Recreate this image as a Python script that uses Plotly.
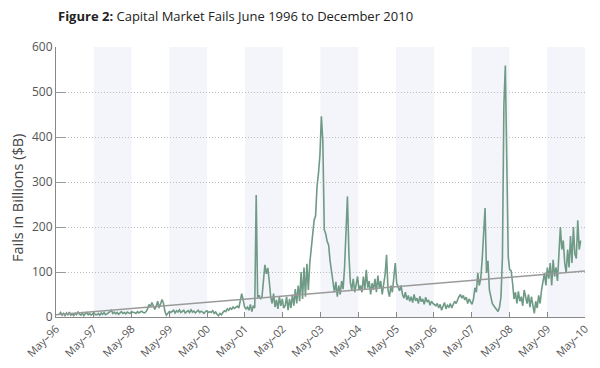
import plotly.graph_objects as go
import pandas as pd

# Biweekly fails ($B), one list per June-May year
fails_9697 = [6, 10, 4, 8, 3, 9, 5, 11, 4, 7, 3, 8, 5, 12, 6, 4, 9, 3, 7, 10, 5, 8, 4, 6, 9, 5]
fails_9798 = [5, 8, 4, 9, 6, 10, 5, 7, 9, 12, 15, 8, 11, 7, 10, 6, 9, 12, 8, 10, 7, 11, 9, 8, 12, 10]
fails_9899 = [10, 8, 12, 9, 11, 13, 10, 9, 12, 18, 28, 22, 32, 25, 17, 24, 35, 20, 28, 39, 30, 12, 4, 9, 12, 10]
fails_9900 = [12, 15, 9, 14, 11, 16, 10, 13, 15, 9, 12, 14, 10, 16, 11, 13, 9, 12, 15, 10, 13, 11, 8, 12, 14, 10]
fails_0001 = [12, 10, 14, 8, 11, 6, 3, 8, 5, 10, 14, 12, 18, 15, 20, 17, 22, 19, 21, 24, 20, 35, 52, 38, 22, 18]
fails_0102 = [22, 15, 28, 12, 25, 20, 271, 43, 48, 40, 45, 80, 116, 96, 109, 80, 45, 30, 52, 22, 38, 18, 45, 25, 40, 20]
fails_0203 = [25, 45, 15, 40, 20, 50, 25, 62, 30, 70, 35, 100, 40, 110, 45, 118, 60, 120, 150, 178, 215, 225, 290, 319, 360, 446]
fails_0304 = [390, 194, 185, 168, 160, 125, 100, 72, 55, 78, 45, 70, 50, 80, 62, 110, 200, 268, 140, 77, 60, 85, 55, 75, 90, 60]
fails_0405 = [70, 55, 90, 60, 105, 65, 80, 50, 75, 60, 85, 55, 92, 65, 80, 50, 70, 95, 138, 60, 45, 70, 55, 85, 120, 75]
fails_0506 = [65, 58, 70, 50, 42, 55, 38, 48, 35, 45, 32, 50, 36, 42, 30, 46, 34, 40, 28, 44, 33, 38, 26, 35, 30, 27]
fails_0607 = [25, 30, 20, 28, 15, 24, 32, 18, 26, 22, 30, 20, 28, 35, 30, 40, 45, 50, 42, 48, 38, 44, 30, 40, 35, 28]
fails_0708 = [40, 65, 55, 98, 70, 85, 127, 180, 242, 98, 125, 60, 40, 30, 25, 20, 15, 12, 22, 45, 134, 470, 559, 330, 134, 105]
fails_0809 = [103, 75, 40, 55, 30, 57, 35, 45, 25, 60, 40, 30, 50, 22, 45, 28, 8, 35, 20, 48, 30, 60, 75, 98, 70, 110]
fails_0910 = [85, 120, 70, 127, 90, 110, 80, 140, 200, 150, 170, 120, 98, 150, 110, 180, 120, 200, 140, 130, 215, 150, 170]

fails = (fails_9697 + fails_9798 + fails_9899 + fails_9900 + fails_0001 + fails_0102 + fails_0203
         + fails_0304 + fails_0405 + fails_0506 + fails_0607 + fails_0708 + fails_0809 + fails_0910)
dates = pd.date_range("1996-06-01", periods=len(fails), freq="14D")

trend_dates = ["1996-05-01", "2010-05-01"]
trend_values = [5, 102]

tick_years = list(range(1996, 2011))
tick_vals = [f"{y}-05-01" for y in tick_years]
tick_text = [f"May\u2013{str(y)[2:]}" for y in tick_years]
shaded_years = [1997, 1999, 2001, 2003, 2005, 2007, 2009]

font_family = "Open Sans, Noto Sans, sans-serif"

fig = go.Figure()
fig.add_trace(go.Scatter(x=dates, y=fails, mode="lines",
                         line=dict(color="#6f9a85", width=1.6), hoverinfo="skip"))
fig.add_trace(go.Scatter(x=trend_dates, y=trend_values, mode="lines",
                         line=dict(color="#9a9a9a", width=1.5), hoverinfo="skip"))

for y in shaded_years:
    fig.add_shape(type="rect", xref="x", yref="paper", x0=f"{y}-05-01", x1=f"{y+1}-05-01",
                  y0=0, y1=1, fillcolor="#f3f5fa", line=dict(width=0), layer="below")

# page body has an 8px margin, so the figure is sized to fit the 600x368 window
fig.update_layout(
    width=592, height=360,
    margin=dict(l=48, r=15, t=39, b=50.5),
    paper_bgcolor="white", plot_bgcolor="white",
    showlegend=False,
    font=dict(family=font_family, color="#444444", size=12),
    annotations=[
        dict(text="<b>Figure 2:</b> Capital Market Fails June 1996 to December 2010",
             xref="paper", yref="paper", x=0, y=1, yshift=31,
             xanchor="left", yanchor="middle", showarrow=False,
             font=dict(size=13, color="#222222", family=font_family)),
        dict(text="Fails in Billions ($B)", textangle=-90,
             xref="paper", yref="paper", x=0, y=0.5, xshift=-39, yshift=-16,
             xanchor="center", yanchor="middle", showarrow=False,
             font=dict(size=14.5, color="#444444", family=font_family)),
    ],
)
fig.update_xaxes(
    type="date", range=["1996-05-01", "2010-05-01"], automargin=False,
    tickvals=tick_vals, ticktext=tick_text, tickangle=-45,
    ticks="inside", ticklen=5, tickcolor="#888888",
    showline=True, linecolor="#888888", linewidth=1.2,
    showgrid=False, zeroline=False,
    tickfont=dict(size=11, color="#555555"),
)
fig.update_yaxes(
    range=[0, 600], tickvals=[0, 100, 200, 300, 400, 500, 600], automargin=False,
    ticks="inside", ticklen=10, tickcolor="#999999",
    showline=True, linecolor="#888888", linewidth=1.2,
    showgrid=True, gridcolor="#bdbdbd", griddash="1px,2px", gridwidth=1,
    zeroline=False,
    tickfont=dict(size=12, color="#555555"),
)

fig.write_html("out.html")
